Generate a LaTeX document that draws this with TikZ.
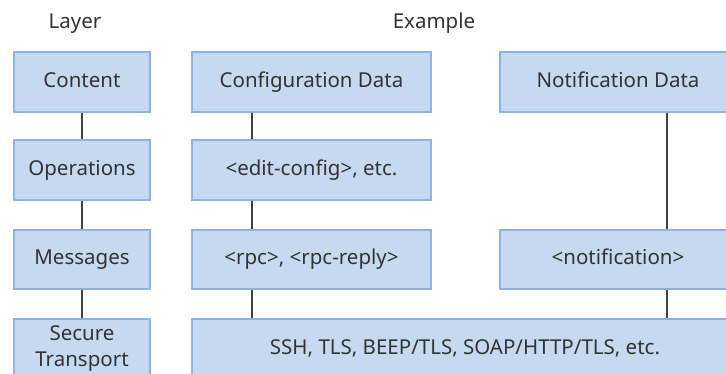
\documentclass[tikz,border=0pt]{standalone}
\usepackage{fontspec}
\setmainfont{Noto Sans}
\definecolor{boxfill}{HTML}{C6D9F1}
\definecolor{boxdraw}{HTML}{8DB3E2}
\definecolor{txt}{HTML}{333333}
\definecolor{ln}{HTML}{404040}
\begin{document}
\begin{tikzpicture}[x=1pt,y=-1pt,
  lbox/.style={draw=boxdraw,fill=boxfill,line width=1.4pt,inner sep=0pt,text=txt,font=\fontsize{20.5}{26}\selectfont,align=center},
  one/.style={text height=15pt,text depth=4pt},
  conn/.style={draw=ln,line width=1.2pt},
  head/.style={text=txt,font=\fontsize{20.5}{24}\selectfont,text height=15pt,text depth=4pt}]
\useasboundingbox (0,0) rectangle (726,374);
\fill[white] (0,0) rectangle (726,374);
\node[head] (hl) at (75,23) {Layer};
\node[head] (he) at (434,23) {Example};
\newcommand{\bx}[7]{\node[lbox,#7,minimum width={#4-#2},minimum height={#5-#3}] (#1) at ({(#2+#4)/2},{(#3+#5)/2}) {#6};}
\bx{content}{14}{52}{150}{112}{Content}{one}
\bx{oper}{14}{140}{150}{200}{Operations}{one}
\bx{msg}{14}{230}{150}{289}{Messages}{one}
\bx{sec}{14}{319}{150}{379}{Secure\\Transport}{}
\bx{cfg}{192}{52}{431}{112}{Configuration Data}{one}
\bx{edit}{192}{140}{431}{200}{<edit-config>, etc.}{one}
\bx{rpc}{192}{230}{431}{289}{<rpc>, <rpc-reply>}{one}
\bx{ssh}{192}{319}{738}{379}{SSH, TLS, BEEP/TLS, SOAP/HTTP/TLS, etc.}{one}
\bx{ndata}{500}{52}{736}{112}{Notification Data}{one}
\bx{nmsg}{500}{230}{736}{289}{<notification>}{one}
\coordinate (cx) at (252,0);
\coordinate (nx) at (667,0);
\draw[conn] (content) -- (oper);
\draw[conn] (oper) -- (msg);
\draw[conn] (msg) -- (sec);
\draw[conn] (cfg.south -| cx) -- (edit.north -| cx);
\draw[conn] (edit.south -| cx) -- (rpc.north -| cx);
\draw[conn] (rpc.south -| cx) -- (ssh.north -| cx);
\draw[conn] (ndata.south -| nx) -- (nmsg.north -| nx);
\draw[conn] (nmsg.south -| nx) -- (ssh.north -| nx);
\end{tikzpicture}
\end{document}
